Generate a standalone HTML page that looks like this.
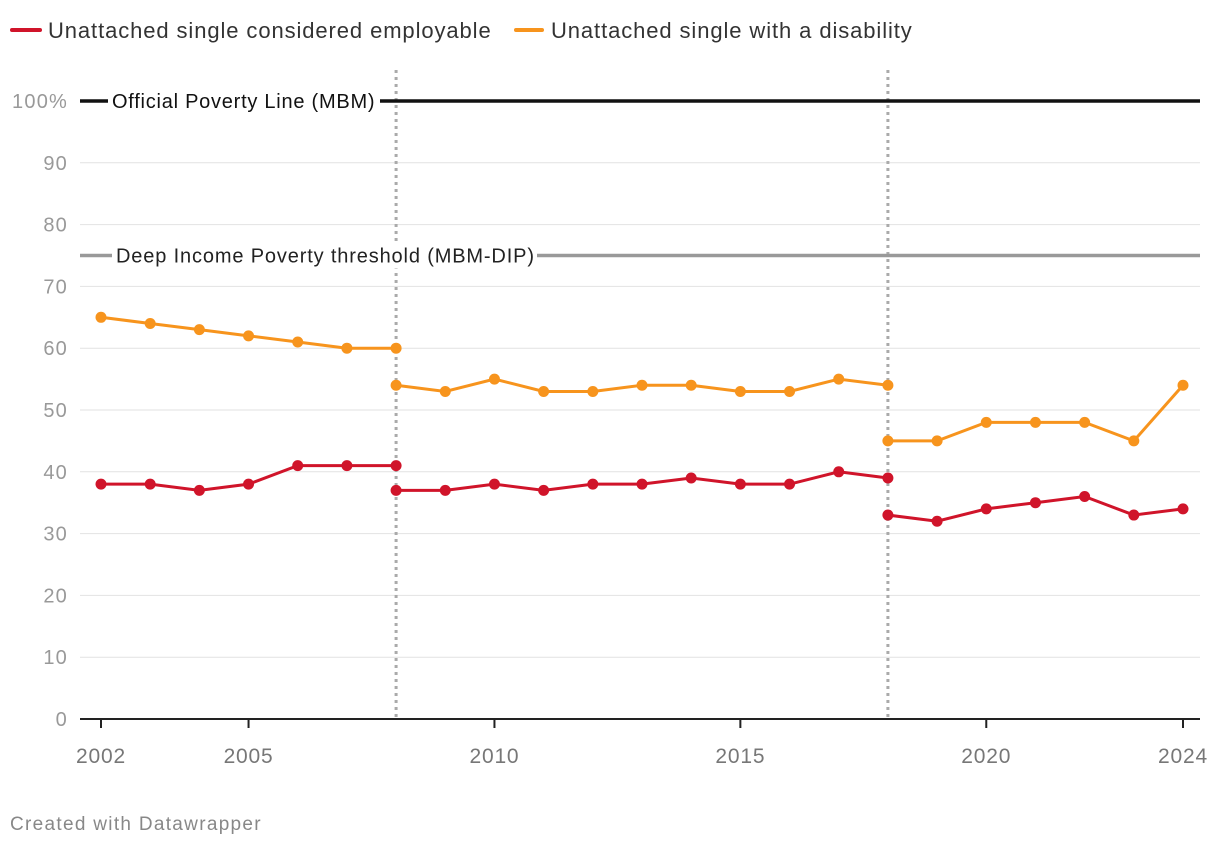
<!DOCTYPE html>
<html><head><meta charset="utf-8"><style>
body{margin:0;background:#fff;font-family:"Liberation Sans",sans-serif;}
</style></head><body>
<svg id="chart" width="1220" height="846" style="display:block">
<g id="legend">
<g><line x1="12" y1="30" x2="40" y2="30" stroke="#d0142a" stroke-width="4" stroke-linecap="round"/><text x="48" y="38" font-size="22" letter-spacing="0.9" fill="#333">Unattached single considered employable</text></g>
<g><line x1="516" y1="30" x2="542" y2="30" stroke="#f7941d" stroke-width="4" stroke-linecap="round"/><text x="551" y="38" font-size="22" letter-spacing="0.9" fill="#333">Unattached single with a disability</text></g>
</g>
<g id="grid"></g><g id="marks"></g>
<text x="10" y="830" font-size="19" letter-spacing="1.3" fill="#888">Created with Datawrapper</text>
</svg>
<script>
const years=[2002,2003,2004,2005,2006,2007,2008,2009,2010,2011,2012,2013,2014,2015,2016,2017,2018,2019,2020,2021,2022,2023,2024];
const empSeg1=[[2002,38],[2003,38],[2004,37],[2005,38],[2006,41],[2007,41],[2008,41]];
const empSeg2=[[2008,37],[2009,37],[2010,38],[2011,37],[2012,38],[2013,38],[2014,39],[2015,38],[2016,38],[2017,40],[2018,39]];
const empSeg3=[[2018,33],[2019,32],[2020,34],[2021,35],[2022,36],[2023,33],[2024,34]];
const disSeg1=[[2002,65],[2003,64],[2004,63],[2005,62],[2006,61],[2007,60],[2008,60]];
const disSeg2=[[2008,54],[2009,53],[2010,55],[2011,53],[2012,53],[2013,54],[2014,54],[2015,53],[2016,53],[2017,55],[2018,54]];
const disSeg3=[[2018,45],[2019,45],[2020,48],[2021,48],[2022,48],[2023,45],[2024,54]];
const yTicks=[0,10,20,30,40,50,60,70,80,90,100];
const xTicks=[2002,2005,2010,2015,2020,2024];
const breaks=[2008,2018];
const NS="http://www.w3.org/2000/svg";
const X=v=>101+(v-2002)*(1183-101)/22;
const Y=v=>719-v*6.18;
function mk(t,a,p){const e=document.createElementNS(NS,t);for(const k in a)e.setAttribute(k,a[k]);p.appendChild(e);return e;}
const G=document.getElementById('grid'),M=document.getElementById('marks');
yTicks.forEach(t=>{
 if(t>0){const l=mk('line',{x1:80,x2:1200,y1:Y(t),y2:Y(t),stroke:'#e2e2e2','stroke-width':1},G);
 
 }
 const tx=mk('text',{x:68,y:Y(t)+7,'text-anchor':'end','font-size':20,'letter-spacing':1.2,fill:'#999'},G);tx.textContent=t===100?'100%':t;
 
 
});
const ax=mk('line',{x1:80,x2:1200,y1:719,y2:719,stroke:'#222','stroke-width':2},G);


xTicks.forEach(t=>{
 mk('line',{x1:X(t),x2:X(t),y1:719,y2:728,stroke:'#222','stroke-width':2},G);
 const tx=mk('text',{x:X(t),y:763,'text-anchor':'middle','font-size':21,'letter-spacing':0.8,fill:'#777'},G);tx.textContent=t;
 
 
});
breaks.forEach(b=>{const l=mk('line',{x1:X(b),x2:X(b),y1:70,y2:719,stroke:'#aaa','stroke-width':3,'stroke-dasharray':'3,4'},G);
 
 });
const r1=mk('line',{x1:80,x2:1200,y1:Y(100),y2:Y(100),stroke:'#111','stroke-width':3.5},G);


mk('rect',{x:108,y:Y(100)-13,width:272,height:26,fill:'#fff'},G);
const t1=mk('text',{x:112,y:Y(100)+7,'font-size':20,'letter-spacing':0.75,fill:'#111'},G);t1.textContent='Official Poverty Line (MBM)';


const r2=mk('line',{x1:80,x2:1200,y1:Y(75),y2:Y(75),stroke:'#999','stroke-width':3.5},G);


mk('rect',{x:112,y:Y(75)-13,width:425,height:26,fill:'#fff'},G);
const t2=mk('text',{x:116,y:Y(75)+7,'font-size':20,'letter-spacing':0.85,fill:'#222'},G);t2.textContent='Deep Income Poverty threshold (MBM-DIP)';


function series(seg,color,name){
 const p=mk('polyline',{points:seg.map(d=>X(d[0])+','+Y(d[1])).join(' '),fill:'none',stroke:color,'stroke-width':3},M);
 
 
 seg.forEach(d=>{const c=mk('circle',{cx:X(d[0]),cy:Y(d[1]),r:5.5,fill:color},M);
  
  });
}
[disSeg1,disSeg2,disSeg3].forEach(s=>series(s,'#f7941d','disability'));
[empSeg1,empSeg2,empSeg3].forEach(s=>series(s,'#d0142a','employable'));
</script>
</body></html>
